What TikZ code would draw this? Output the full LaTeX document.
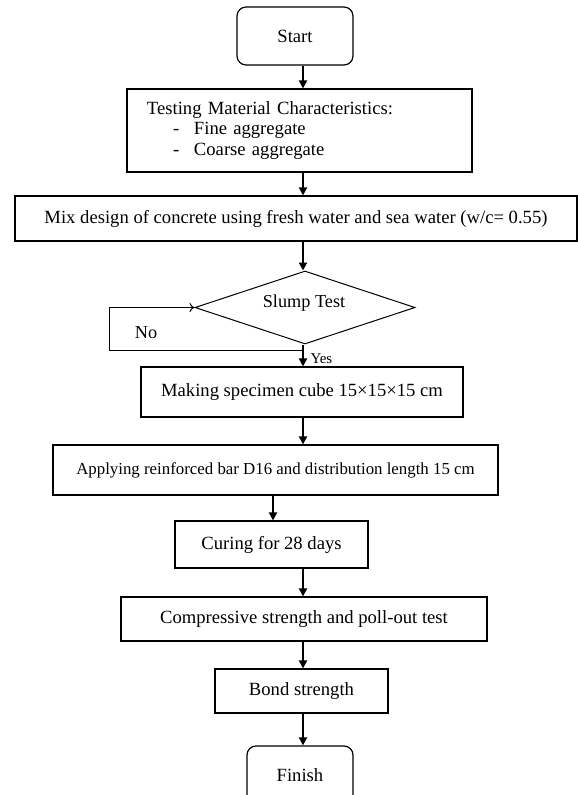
\documentclass[tikz,border=0pt]{standalone}
\usepackage{fontspec}
\setmainfont{Liberation Serif}
\usetikzlibrary{shapes.geometric,arrows.meta,calc}
\begin{document}
\begin{tikzpicture}[x=1bp,y=-1bp,
  txt/.style={font=\fontsize{18.7}{20.5}\selectfont},
  smalltxt/.style={font=\fontsize{16.9}{19}\selectfont},
  procbox/.style={draw,line width=1.2bp,inner sep=0pt,align=center,txt},
  termbox/.style={procbox,rounded corners=9bp},
  decbox/.style={draw,line width=1bp,diamond,inner sep=0pt,txt},
  flow/.style={line width=2bp,-{Triangle[length=8bp,width=8bp]}},
  loop/.style={line width=1bp,-{To[length=5bp,width=9bp]}},
  lbl/.style={font=\fontsize{18.3}{20}\selectfont},
  ylbl/.style={font=\fontsize{15}{18}\selectfont}]
\clip (0,0) rectangle (578,795);
\fill[white] (0,0) rectangle (578,795);

\coordinate (ax) at (303,0);
\coordinate (bx) at (273,0);

\node[termbox,minimum width=116bp,minimum height=58bp] (start) at (295,36) {Start};
\node[procbox,minimum width=345bp,minimum height=83bp,text width=305bp,align=left] (mat) at (299.5,130.5)
  {Testing Material Characteristics:\\
   \makebox[47bp][l]{\hspace*{26bp}-}Fine aggregate\\
   \makebox[47bp][l]{\hspace*{26bp}-}Coarse aggregate};
\node[procbox,minimum width=562bp,minimum height=45bp] (mix) at (296,218.5)
  {Mix design of concrete using fresh water and sea water (w/c= 0.55)};
\node[decbox,minimum width=220bp,minimum height=73bp] (dia) at (305,307.5) {};
\node[lbl] (slump) at (304,303) {Slump Test};
\node[procbox,minimum width=322bp,minimum height=50bp] (cube) at (302,392)
  {Making specimen cube 15×15×15 cm};
\node[procbox,smalltxt,minimum width=445bp,minimum height=50bp] (bar) at (275.5,470)
  {Applying reinforced bar D16 and distribution length 15 cm};
\node[procbox,minimum width=193bp,minimum height=47bp] (cure) at (271.5,544.5)
  {Curing for 28 days};
\node[procbox,minimum width=366bp,minimum height=44bp] (comp) at (304,619)
  {Compressive strength and poll-out test};
\node[procbox,minimum width=173bp,minimum height=44bp] (bond) at (301.5,691)
  {Bond strength};
\node[termbox,minimum width=106bp,minimum height=58bp] (finish) at (300,775) {Finish};

\draw[flow] (start.south -| ax) -- (mat.north -| ax);
\draw[flow] (mat.south -| ax) -- (mix.north -| ax);
\draw[flow] (mix.south -| ax) -- (dia.north -| ax);
\draw[flow] (dia.south -| ax) -- (cube.north -| ax);
\draw[flow] (cube.south -| ax) -- (bar.north -| ax);
\draw[flow] (bar.south -| bx) -- (cure.north -| bx);
\draw[flow] (cure.south -| ax) -- (comp.north -| ax);
\draw[flow] (comp.south -| ax) -- (bond.north -| ax);
\draw[flow] (bond.south -| ax) -- (finish.north -| ax);

\coordinate (nj) at (303,350);
\coordinate (nl) at (109,350);
\draw[loop] (nj) -- (nl) |- (dia.west);
\node[lbl] (no) at (146,333) {No};
\node[ylbl,anchor=west] (yes) at (307,359) {Yes};
\end{tikzpicture}
\end{document}
